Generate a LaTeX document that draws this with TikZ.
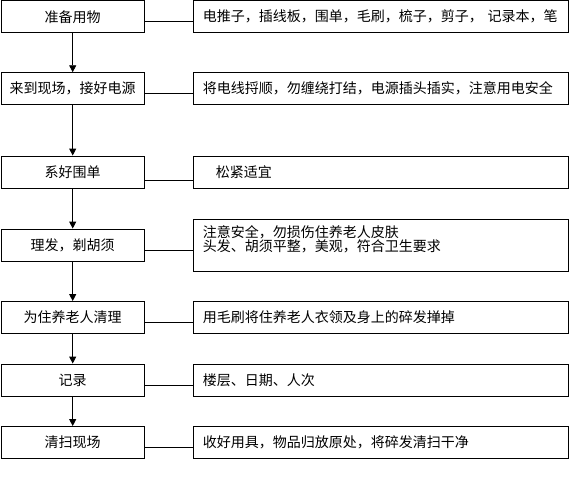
\documentclass[tikz,border=0pt]{standalone}
\usepackage{fontspec}
\setmainfont{Noto Sans CJK SC}
\usetikzlibrary{arrows.meta, positioning}

\tikzset{
  stepbox/.style={draw, line width=0.9pt, minimum width=143.5pt, minimum height=32pt, inner sep=0pt},
  notebox/.style={draw, line width=0.9pt, anchor=west, minimum height=32pt, text width=355pt, inner xsep=10pt, inner ysep=0pt, align=left},
  flow/.style={-{Triangle[width=7pt,length=7pt]}, line width=0.9pt},
  link/.style={line width=0.9pt}
}

\begin{document}
\begin{tikzpicture}[x=1pt, y=-1pt, font=\fontsize{14pt}{13pt}\selectfont]
    \useasboundingbox (0,0) rectangle (577,479);
    \node[stepbox] (l1) at (72.7,16.7) {准备用物};
    \node[stepbox] (l2) at (72.7,88.7) {来到现场，接好电源};
    \node[stepbox] (l3) at (72.7,172) {系好围单};
    \node[stepbox] (l4) at (72.7,245) {理发，剃胡须};
    \node[stepbox] (l5) at (72.7,317.5) {为住养老人清理};
    \node[stepbox] (l6) at (72.7,380) {记录};
    \node[stepbox] (l7) at (72.7,442.5) {清扫现场};

    \node[notebox] (r1) at (192.5,16.7) {电推子，插线板，围单，毛刷，梳子，剪子， 记录本，笔};
    \node[notebox] (r2) at (192.5,88.7) {将电线捋顺，勿缠绕打结，电源插头插实，注意用电安全};
    \node[notebox] (r3) at (192.5,172) {\hspace*{13pt}松紧适宜};
    \node[notebox, minimum height=52pt] (r4) at (192.5,245) {注意安全，勿损伤住养老人皮肤\\头发、胡须平整，美观，符合卫生要求\\\mbox{}};
    \node[notebox] (r5) at (192.5,317.5) {用毛刷将住养老人衣领及身上的碎发掸掉};
    \node[notebox] (r6) at (192.5,380) {楼层、日期、人次};
    \node[notebox] (r7) at (192.5,442.5) {收好用具，物品归放原处，将碎发清扫干净};

    \draw[flow] (l1) -- (l2);
    \draw[flow] (l2) -- (l3);
    \draw[flow] (l3) -- (l4);
    \draw[flow] (l4) -- (l5);
    \draw[flow] (l5) -- (l6);
    \draw[flow] (l6) -- (l7);

    \draw[link] ([yshift=-5pt]l1.east) -- ([yshift=-5pt]r1.west);
    \draw[link] ([yshift=-5pt]l2.east) -- ([yshift=-5pt]r2.west);
    \draw[link] ([yshift=-8pt]l3.east) -- ([yshift=-8pt]r3.west);
    \draw[link] ([yshift=-5pt]l4.east) -- ([yshift=-5pt]r4.west);
    \draw[link] ([yshift=-5pt]l5.east) -- ([yshift=-5pt]r5.west);
    \draw[link] ([yshift=-5pt]l6.east) -- ([yshift=-5pt]r6.west);
    \draw[link] ([yshift=-5pt]l7.east) -- ([yshift=-5pt]r7.west);
\end{tikzpicture}
\end{document}
